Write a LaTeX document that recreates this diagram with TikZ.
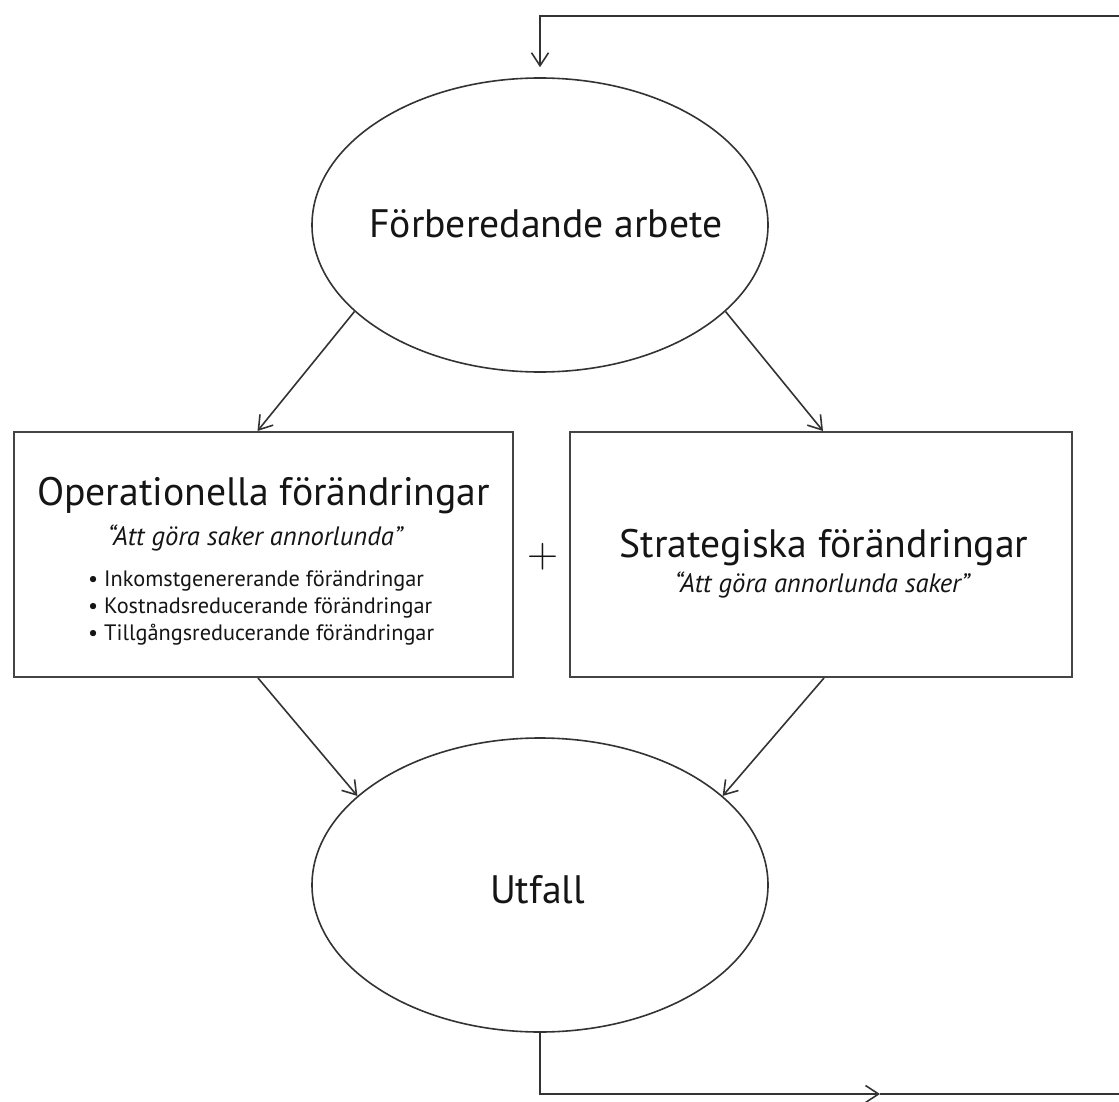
\documentclass[tikz,border=0pt]{standalone}
\usepackage{fontspec}
\setmainfont{PT Sans}
\newfontfamily\plusfont{Latin Modern Roman}
\usetikzlibrary{arrows.meta,shapes.geometric}
\definecolor{linegray}{HTML}{333333}
\definecolor{boxgray}{HTML}{444444}
\definecolor{inkblack}{HTML}{151515}
\newlength\fitlen
% set the current font size so that the sample text #2 is #1 pt wide
\newcommand\setfit[2]{\settowidth\fitlen{\fontsize{10pt}{12pt}\selectfont #2}\pgfmathsetmacro\fitresult{10*#1/\fitlen}\fontsize{\fitresult pt}{\fitresult pt}\selectfont}
\newcommand\titlefont{\setfit{453}{Operationella förändringar}}
\newcommand\quotefont{\itshape\setfit{295}{“Att göra saker annorlunda”}}
\newcommand\bulletfont{\setfit{344}{• Kostnadsreducerande förändringar}}
\begin{document}
\begin{tikzpicture}[x=1pt,y=-1pt,
  line/.style={draw=linegray, line width=1.6pt},
  arr/.style={line, -{Straight Barb[length=13pt,width=17pt,line width=1.6pt]}},
  oval/.style={ellipse, line, minimum width=456pt, minimum height=294pt, inner sep=0pt},
  panel/.style={rectangle, draw=boxgray, line width=2pt, minimum height=245pt, inner sep=0pt},
  lbl/.style={inner sep=0pt, anchor=base, text=inkblack},
  lblw/.style={inner sep=0pt, anchor=base west, text=inkblack}]
\useasboundingbox (0,0) rectangle (1119,1102);

% shapes
\node[oval] (prep) at (540,225) {};
\node[oval] (out) at (540,885) {};
\node[panel, minimum width=499pt] (ops) at (263.5,554.5) {};
\node[panel, minimum width=502pt] (strat) at (821,554.5) {};

% texts
\node[lbl] (preptxt) at (546,237) {\titlefont Förberedande arbete};
\node[lbl] (outtxt) at (537.5,903) {\titlefont Utfall};
\node[lbl] (opstitle) at (263.5,505) {\titlefont Operationella förändringar};
\node[lbl] (opsquote) at (255,545) {\quotefont “Att göra saker annorlunda”};
\node[lblw] (b1) at (88,586) {\bulletfont • Inkomstgenererande förändringar};
\node[lblw] (b2) at (88,613) {\bulletfont • Kostnadsreducerande förändringar};
\node[lblw] (b3) at (88,640) {\bulletfont • Tillgångsreducerande förändringar};
\node[lbl] (strattitle) at (824,557) {\titlefont Strategiska förändringar};
\node[lbl] (stratquote) at (822,592) {\quotefont “Att göra annorlunda saker”};
\node[inner sep=0pt, text=inkblack, font=\plusfont\fontsize{43pt}{43pt}\selectfont] (plus) at (543,557) {+};

% connectors
\draw[arr] (prep.205) -- ([xshift=-6pt]ops.north);
\draw[arr] (prep.335) -- ([xshift=2pt]strat.north);
\draw[arr] ([xshift=-5.5pt]ops.south) -- (out.154);
\draw[arr] ([xshift=3pt]strat.south) -- (out.26);

% feedback loop
\coordinate (br) at (1119,1094);
\coordinate (bmid) at (880,1094);
\coordinate (tr) at (1119,16);
\draw[arr] (out.south) |- (bmid);
\draw[line] (bmid) -- (br);
\draw[arr] (tr) -| ([yshift=10pt]prep.north);
\end{tikzpicture}
\end{document}
